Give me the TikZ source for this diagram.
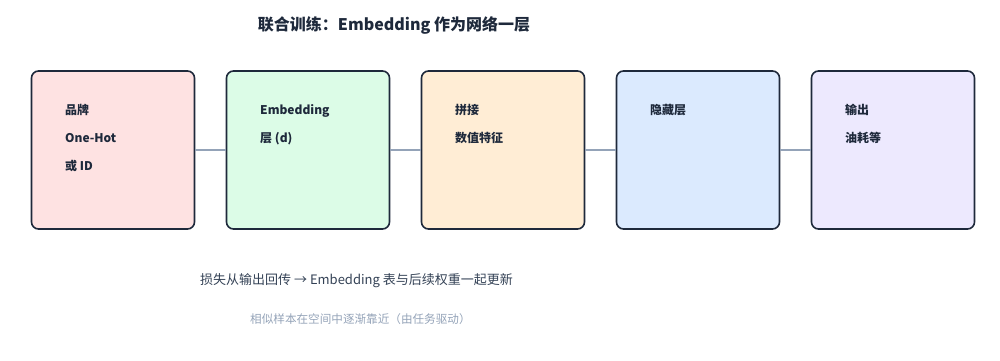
\documentclass[tikz,border=0pt]{standalone}
\usepackage{fontspec}
\newfontfamily\cjk{Noto Sans CJK SC}
\usepackage{xcolor}
\usepackage{tikz}
\usetikzlibrary{positioning}
\definecolor{ink}{HTML}{1E293B}
\definecolor{note}{HTML}{334155}
\definecolor{muted}{HTML}{94A3B8}
\definecolor{edge}{HTML}{94A3B8}
\definecolor{fillA}{HTML}{FEE2E2}
\definecolor{fillB}{HTML}{DCFCE7}
\definecolor{fillC}{HTML}{FFEDD5}
\definecolor{fillD}{HTML}{DBEAFE}
\definecolor{fillE}{HTML}{EDE9FE}

\begin{document}
\begin{tikzpicture}[x=1pt, y=-1pt,
    layerbox/.style={draw=ink, line width=1.6pt, rounded corners=7pt,
      minimum width=163pt, minimum height=158pt, inner sep=0pt},
    boxtext/.style={anchor=north west, inner sep=0pt, align=left, text=ink,
      font=\cjk\bfseries\fontsize{12}{28}\selectfont},
    link/.style={draw=edge, line width=1.2pt}]
  \useasboundingbox (0,0) rectangle (1000,360);
  \node[text=ink, font=\cjk\bfseries\fontsize{16}{19}\selectfont] (title)
      at (394,25) {联合训练：Embedding 作为网络一层};
  % five layers, left to right
  \foreach \i/\xc/\fc/\txt in
      {1/113/fillA/{品牌\\One-Hot\\或 ID},
       2/308/fillB/{Embedding\\层 (d)},
       3/503/fillC/{拼接\\数值特征},
       4/698/fillD/{隐藏层},
       5/893/fillE/{输出\\油耗等}} {
    \node[layerbox, fill=\fc] (b\i) at (\xc,150) {};
    \node[boxtext] (t\i) at (\xc-48,104) {\txt};
  }
  \foreach \a/\b in {1/2, 2/3, 3/4, 4/5} {
    \draw[link] (b\a) -- (b\b);
  }
  \node[anchor=west, inner sep=0pt, text=note,
      font=\cjk\fontsize{13}{16}\selectfont] (loss) at (200,281)
      {损失从输出回传 → Embedding 表与后续权重一起更新};
  \node[anchor=west, inner sep=0pt, text=muted,
      font=\cjk\fontsize{11.6}{14}\selectfont] (hint) at (250,319)
      {相似样本在空间中逐渐靠近（由任务驱动）};
\end{tikzpicture}
\end{document}
